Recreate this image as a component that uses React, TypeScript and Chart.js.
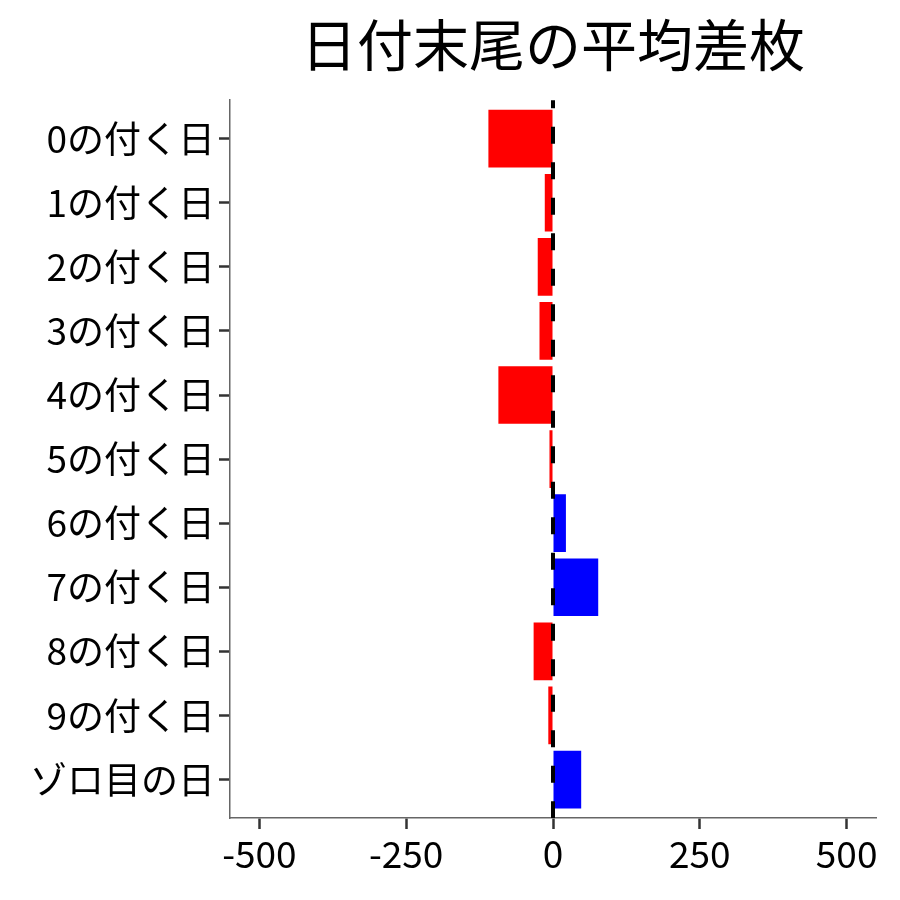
import React, { useEffect, useRef } from "react";
import { Chart, registerables } from "chart.js";

Chart.register(...registerables);

const categories: string[] = [
  "0の付く日", "1の付く日", "2の付く日", "3の付く日", "4の付く日",
  "5の付く日", "6の付く日", "7の付く日", "8の付く日", "9の付く日", "ゾロ目の日",
];
const avgDiff: number[] = [-110, -14, -26, -23, -93, -6, 22, 77, -33, -8, 48];
const xTicks: number[] = [-500, -250, 0, 250, 500];
const titleText = "日付末尾の平均差枚";

const FONT = "'Noto Sans CJK JP', 'Noto Sans', sans-serif";

export default function App() {
  const ref = useRef<HTMLCanvasElement | null>(null);
  useEffect(() => {
    document.body.style.margin = "0";
    if (!ref.current) return;
    const zeroLine = {
      id: "zeroLine",
      afterDatasetsDraw(chart: any) {
        const { ctx, chartArea, scales } = chart;
        const x = scales.x.getPixelForValue(0);
        ctx.save();
        ctx.strokeStyle = "#000";
        ctx.lineWidth = 4;
        ctx.setLineDash([17, 18.5]);
        ctx.lineDashOffset = 9;
        ctx.beginPath();
        ctx.moveTo(x, chartArea.top);
        ctx.lineTo(x, chartArea.bottom);
        ctx.stroke();
        ctx.restore();
      },
    };
    const chart = new Chart(ref.current, {
      type: "bar",
      data: {
        datasets: [
          {
            data: avgDiff.map((v, i) => ({ x: v, y: i })) as any,
            backgroundColor: avgDiff.map((v) => (v >= 0 ? "#0000FF" : "#FF0000")),
            borderWidth: 0,
            barPercentage: 0.9,
            categoryPercentage: 1.0,
          },
        ],
      },
      options: {
        animation: false,
        responsive: false,
        indexAxis: "y",
        layout: { padding: { left: 0, right: 24, top: 0, bottom: 0 } },
        plugins: {
          legend: { display: false },
          tooltip: { enabled: false },
          title: {
            display: true,
            text: titleText,
            fullSize: false,
            color: "#000",
            font: { family: FONT, size: 56, weight: "normal", lineHeight: 1.2 },
            padding: { top: 11, bottom: 22 },
          } as any,
        },
        scales: {
          x: {
            type: "linear",
            min: -550,
            max: 550,
            afterBuildTicks: (axis: any) => {
              axis.ticks = xTicks.map((v) => ({ value: v }));
            },
            afterFit: (s: any) => {
              s.height = 82;
            },
            grid: {
              drawOnChartArea: false,
              drawTicks: true,
              tickLength: 11,
              tickWidth: 2.5,
              tickColor: "#333",
            },
            border: { display: true, color: "#666", width: 1.5 },
            ticks: {
              color: "#000",
              padding: 3,
              font: { family: FONT, size: 37 },
              callback: (v: any) => String(v),
            },
          },
          y: {
            type: "linear",
            reverse: true,
            offset: false,
            min: -0.6,
            max: 10.6,
            afterBuildTicks: (axis: any) => {
              axis.ticks = categories.map((_, i) => ({ value: i }));
            },
            afterFit: (s: any) => {
              s.width = 230;
            },
            grid: {
              offset: false,
              drawOnChartArea: false,
              drawTicks: true,
              tickLength: 11,
              tickWidth: 2.5,
              tickColor: "#333",
            },
            border: { display: true, color: "#666", width: 1.5 },
            ticks: {
              color: "#000",
              padding: 4,
              font: { family: FONT, size: 37 },
              callback: (v: any) => categories[v as number] ?? "",
            },
          },
        },
      } as any,
      plugins: [zeroLine],
    });
    return () => chart.destroy();
  }, []);
  return (
    <div style={{ position: "absolute", left: 0, top: 0, width: 900, height: 900 }}>
      <canvas ref={ref} width={900} height={900} style={{ width: 900, height: 900 }} />
    </div>
  );
}
